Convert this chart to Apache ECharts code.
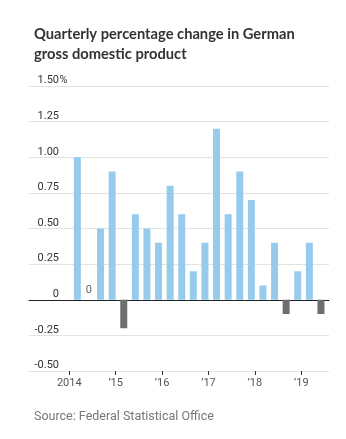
<!DOCTYPE html>
<html>
<head>
<meta charset="utf-8">
<script src="https://cdn.jsdelivr.net/npm/echarts@6/dist/echarts.min.js"></script>
<style>
html,body{margin:0;padding:0;background:#fff;}
#chart{width:346px;height:439px;}
</style>
</head>
<body>
<div id="chart"></div>
<script>
// ---- data ----
var quarters = ['2014Q1','2014Q2','2014Q3','2014Q4','2015Q1','2015Q2','2015Q3','2015Q4',
  '2016Q1','2016Q2','2016Q3','2016Q4','2017Q1','2017Q2','2017Q3','2017Q4',
  '2018Q1','2018Q2','2018Q3','2018Q4','2019Q1','2019Q2'];
var gdpChange = [1.0, 0, 0.5, 0.9, -0.2, 0.6, 0.5, 0.4, 0.8, 0.6, 0.2, 0.4,
  1.2, 0.6, 0.9, 0.7, 0.1, 0.4, -0.1, 0.2, 0.4, -0.1];
var yTickLabels = ['-0.50','-0.25','0','0.25','0.50','0.75','1.00','1.25','1.50'];
var xTickLabels = ['2014', "\u201915", "\u201916", "\u201917", "\u201918", "\u201919"];
var yearStartIndex = [0, 4, 8, 12, 16, 20];

var yMin = -0.5, yMax = 1.5, yStep = 0.25;
var POS = '#96cbeb', NEG = '#6e6e6e';
var FONT = 'Roboto';

var barData = gdpChange.map(function (v) {
  if (v === 0) {
    return { value: v, label: { show: true, position: 'top', distance: 4, formatter: '0',
      color: '#666', fontSize: 11, fontFamily: FONT } };
  }
  return v;
});

var chart = echarts.init(document.getElementById('chart'), null, { renderer: 'canvas' });
chart.setOption({
  animation: false,
  backgroundColor: '#fff',
  title: [{
    text: 'Quarterly percentage change in German\ngross domestic product',
    left: 29, top: 19,
    textStyle: { fontFamily: 'Lato', fontWeight: 'bold', fontSize: 14.7, lineHeight: 20, color: '#333' }
  }, {
    text: 'Source: Federal Statistical Office',
    left: 29, top: 405,
    textStyle: { fontFamily: FONT, fontWeight: 'normal', fontSize: 12.5, color: '#777' }
  }],
  grid: [
    { left: 29, right: 17, top: 86, bottom: 68 },
    { left: 69.3, right: 21.5, top: 86, bottom: 68 }
  ],
  xAxis: [
    { gridIndex: 0, type: 'value', min: 0, max: 1,
      axisLine: { show: true, onZero: true, lineStyle: { color: '#222', width: 1 } },
      axisTick: { show: false }, axisLabel: { show: false }, splitLine: { show: false } },
    { gridIndex: 1, type: 'category', data: quarters, boundaryGap: true,
      axisLine: { show: false }, axisTick: { show: false }, axisLabel: { show: false }, splitLine: { show: false } },
    { gridIndex: 1, type: 'value', min: 0, max: quarters.length, position: 'bottom',
      axisLine: { show: false, onZero: false },
      axisTick: { show: true, length: 4, customValues: yearStartIndex, lineStyle: { color: '#333' } },
      axisLabel: { show: true, customValues: yearStartIndex, margin: 7,
        color: '#555', fontSize: 11, fontFamily: FONT,
        formatter: function (v) { return xTickLabels[yearStartIndex.indexOf(Math.round(v))] || ''; } },
      splitLine: { show: false } }
  ],
  yAxis: [
    { gridIndex: 0, type: 'value', min: yMin, max: yMax, interval: yStep,
      axisLine: { show: false }, axisTick: { show: false },
      splitLine: { show: true, lineStyle: { color: '#e2e2e2', width: 1 } },
      axisLabel: { show: true, inside: true, margin: 39, align: 'right', verticalAlign: 'bottom',
        color: '#333', fontSize: 11, fontFamily: FONT,
        formatter: function (v) {
          var i = Math.round((v - yMin) / yStep);
          var t = yTickLabels[i];
          return i === yTickLabels.length - 1 ? '{n|' + t + '}{p|%}' : '{n|' + t + '}{p| }';
        },
        rich: {
          n: { color: '#333', fontSize: 11, fontFamily: FONT },
          p: { color: '#333', fontSize: 11, fontFamily: FONT, width: 9, align: 'left' }
        } } },
    { gridIndex: 1, type: 'value', min: yMin, max: yMax, interval: yStep, show: false,
      splitLine: { show: false } }
  ],
  series: [
    { name: 'spacer', type: 'bar', xAxisIndex: 1, yAxisIndex: 1, data: [], barWidth: 4.5, barGap: 0, silent: true },
    { name: 'GDP', type: 'bar', xAxisIndex: 1, yAxisIndex: 1, data: barData, barWidth: 7, barGap: 0,
      itemStyle: { color: function (p) { return p.value < 0 ? NEG : POS; } } }
  ]
});
</script>
</body>
</html>
